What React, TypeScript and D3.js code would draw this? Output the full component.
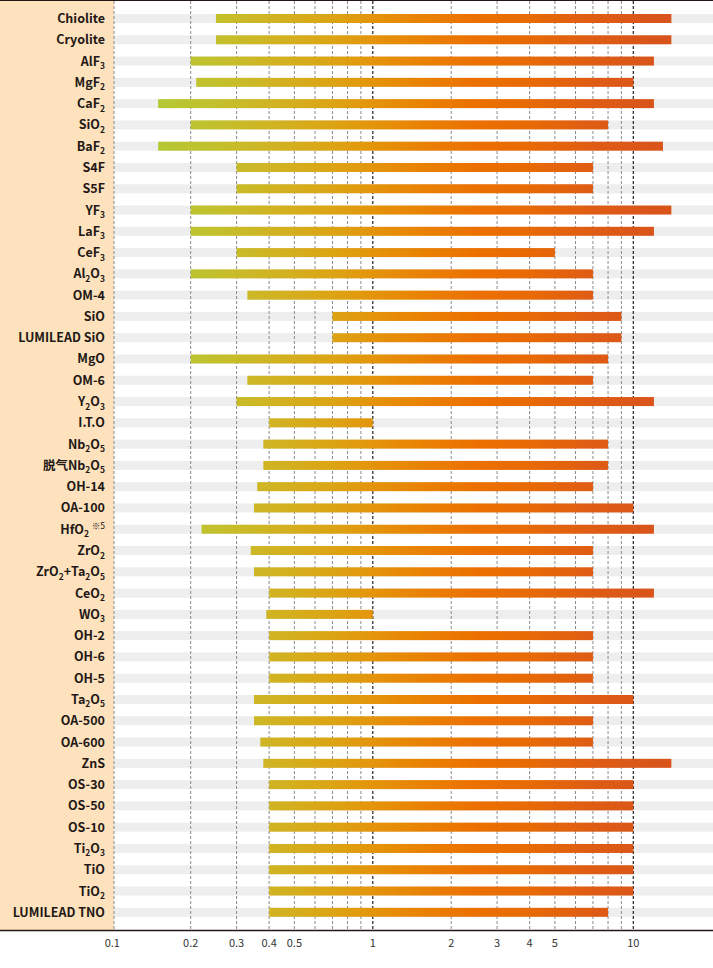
import React from "react";
import * as d3 from "d3";

const materials = [
  "Chiolite", "Cryolite", "AlF_3", "MgF_2", "CaF_2", "SiO_2", "BaF_2", "S4F", "S5F", "YF_3",
  "LaF_3", "CeF_3", "Al_2O_3", "OM-4", "SiO", "LUMILEAD SiO", "MgO", "OM-6", "Y_2O_3", "I.T.O",
  "Nb_2O_5", "脱气Nb_2O_5", "OH-14", "OA-100", "HfO_2 ^※5", "ZrO_2", "ZrO_2+Ta_2O_5", "CeO_2", "WO_3", "OH-2",
  "OH-6", "OH-5", "Ta_2O_5", "OA-500", "OA-600", "ZnS", "OS-30", "OS-50", "OS-10", "Ti_2O_3",
  "TiO", "TiO_2", "LUMILEAD TNO",
];
const minValues = [
  0.25, 0.25, 0.2, 0.21, 0.15, 0.2, 0.15, 0.3, 0.3, 0.2,
  0.2, 0.3, 0.2, 0.33, 0.7, 0.7, 0.2, 0.33, 0.3, 0.4,
  0.38, 0.38, 0.36, 0.35, 0.22, 0.34, 0.35, 0.4, 0.39, 0.4,
  0.4, 0.4, 0.35, 0.35, 0.37, 0.38, 0.4, 0.4, 0.4, 0.4,
  0.4, 0.4, 0.4,
];
const maxValues = [
  14, 14, 12, 10, 12, 8, 13, 7, 7, 14,
  12, 5, 7, 7, 9, 9, 8, 7, 12, 1,
  8, 8, 7, 10, 12, 7, 7, 12, 1, 7,
  7, 7, 10, 7, 7, 14, 10, 10, 10, 10,
  10, 10, 8,
];
const tickValues = [0.1, 0.2, 0.3, 0.4, 0.5, 1, 2, 3, 4, 5, 10];
const tickLabels = ["0.1", "0.2", "0.3", "0.4", "0.5", "1", "2", "3", "4", "5", "10"];
const gridValues = [0.2, 0.3, 0.4, 0.5, 0.6, 0.7, 0.8, 0.9, 1, 2, 3, 4, 5, 6, 7, 8, 9, 10];
const majorGrid = [1, 10];
const gradientValues = [0.15, 0.25, 0.4, 0.7, 1, 1.5, 2.5, 4, 7, 12];
const gradientColors = ["#b4c834", "#c3c02c", "#d0b423", "#dca414", "#e4940b", "#e98304", "#ec7000", "#e86a05", "#df5c14", "#d9541a"];

const W = 713;
const H = 968;
const panelW = 114;
const axisY = 930.5;

type Seg = { t: string; kind: "n" | "sub" | "sup" };

function parseLabel(s: string): Seg[] {
  const segs: Seg[] = [];
  let i = 0;
  let buf = "";
  while (i < s.length) {
    const c = s[i];
    if (c === "_") {
      if (buf) segs.push({ t: buf, kind: "n" });
      buf = "";
      segs.push({ t: s[i + 1], kind: "sub" });
      i += 2;
    } else if (c === "^") {
      if (buf) segs.push({ t: buf, kind: "n" });
      buf = "";
      segs.push({ t: s.slice(i + 1), kind: "sup" });
      i = s.length;
    } else {
      buf += c;
      i++;
    }
  }
  if (buf) segs.push({ t: buf, kind: "n" });
  return segs;
}

const offsets = { n: 0, sub: 3.5, sup: -5 };

export default function App() {
  const x = d3.scaleLog().domain([0.1, 10]).range([112.3, 633.3]);
  const y = d3.scalePoint<string>().domain(materials).range([18.5, 912.3]);
  const barH = 9;
  const font = "'Noto Sans CJK JP', 'Noto Sans', sans-serif";

  return (
    <svg width={W} height={H} style={{ position: "absolute", left: 0, top: 0, background: "#fff" }}>
      <defs>
        <linearGradient id="barGrad" gradientUnits="userSpaceOnUse" x1={x(0.1)} x2={x(14)} y1={0} y2={0}>
          {gradientValues.map((v, i) => (
            <stop key={i} offset={(x(v) - x(0.1)) / (x(14) - x(0.1))} stopColor={gradientColors[i]} />
          ))}
        </linearGradient>
      </defs>
      <rect x={0} y={0} width={panelW} height={axisY} fill="#fde2bd" />
      {materials.map((m) => (
        <rect key={"bg" + m} x={panelW} y={(y(m) as number) - barH / 2} width={W - panelW} height={barH} fill="#eeeeee" />
      ))}
      {gridValues.map((v) => {
        const major = majorGrid.includes(v);
        return (
          <line key={"g" + v} x1={x(v)} x2={x(v)} y1={1} y2={axisY}
            stroke={major ? "#222" : "#8a8a8a"} strokeWidth={major ? 1.2 : 1} strokeDasharray="3,2" />
        );
      })}
      <line x1={panelW} x2={panelW} y1={1} y2={axisY} stroke="#8a8a8a" strokeWidth={1} strokeDasharray="3,2" />
      {materials.map((m, i) => (
        <rect key={"bar" + m} x={x(minValues[i])} y={(y(m) as number) - barH / 2}
          width={x(maxValues[i]) - x(minValues[i])} height={barH} fill="url(#barGrad)" />
      ))}
      {materials.map((m) => {
        const segs = parseLabel(m);
        let prev = 0;
        return (
          <text key={"l" + m} x={105} y={(y(m) as number) + 4.5} textAnchor="end"
            fontFamily={font} fontWeight="bold" fontSize={12.5} fill="#231815">
            {segs.map((s, k) => {
              const off = offsets[s.kind];
              const dy = off - prev;
              prev = off;
              return (
                <tspan key={k} dy={dy}
                  fontSize={s.kind === "n" ? 12.5 : 8.5}
                  fontWeight={s.kind === "sup" ? "normal" : "bold"}>
                  {s.t}
                </tspan>
              );
            })}
          </text>
        );
      })}
      <line x1={0} x2={W} y1={0.5} y2={0.5} stroke="#231815" strokeWidth={1.2} />
      <line x1={0} x2={W} y1={axisY} y2={axisY} stroke="#231815" strokeWidth={1.3} />
      {tickValues.map((v, i) => (
        <text key={"t" + v} x={x(v)} y={947} textAnchor="middle" fontFamily={font} fontSize={11} fill="#333">
          {tickLabels[i]}
        </text>
      ))}
    </svg>
  );
}
